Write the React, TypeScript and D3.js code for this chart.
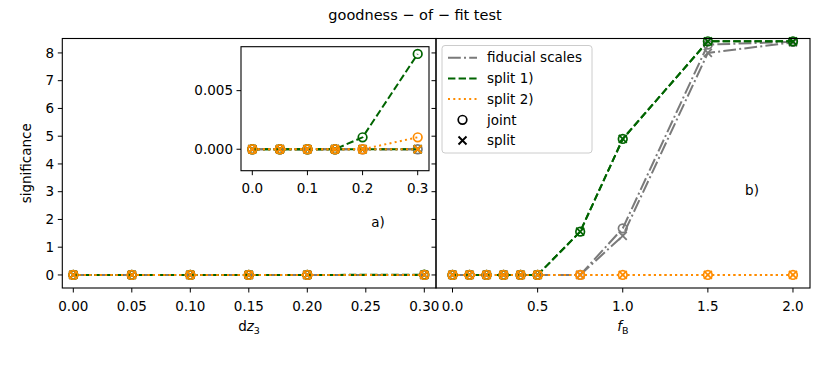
import React from 'react';
import * as d3 from 'd3';

// dz3 scan (left panel)
const dz3 = [0, 0.05, 0.1, 0.15, 0.2, 0.3];
const dzFiducialJoint = [0, 0, 0, 0, 0, 0];
const dzFiducialSplit = [0, 0, 0, 0, 0, 0];
const dzSplit1Joint = [0, 0, 0, 0, 0.00102, 0.00813];
const dzSplit1Split = [0, 0, 0, 0, 0, 0];
const dzSplit2Joint = [0, 0, 0, 0, 0, 0.00102];
const dzSplit2Split = [0, 0, 0, 0, 0, 0];

// f_B scan (right panel)
const fB = [0, 0.1, 0.2, 0.3, 0.4, 0.5, 0.75, 1.0, 1.5, 2.0];
const fbFiducialJoint = [0, 0, 0, 0, 0, 0, 0, 1.68, 8.3, 8.4];
const fbFiducialSplit = [0, 0, 0, 0, 0, 0, 0, 1.41, 8.0, 8.38];
const fbSplit1Joint = [0, 0, 0, 0, 0, 0, 1.56, 4.9, 8.42, 8.42];
const fbSplit1Split = [0, 0, 0, 0, 0, 0, 1.56, 4.9, 8.42, 8.42];
const fbSplit2Joint = [0, 0, 0, 0, 0, 0, 0, 0, 0, 0];
const fbSplit2Split = [0, 0, 0, 0, 0, 0, 0, 0, 0, 0];

const yTicks = [0, 1, 2, 3, 4, 5, 6, 7, 8];
const leftXTicks = [0, 0.05, 0.1, 0.15, 0.2, 0.25, 0.3];
const rightXTicks = [0, 0.5, 1.0, 1.5, 2.0];
const insetXTicks = [0, 0.1, 0.2, 0.3];
const insetYTicks = [0, 0.005];

const GRAY = '#7a7a7a';
const GREEN = '#006400';
const ORANGE = '#ff8c00';
const FONT = 'DejaVu Sans';

const styles = {
  fiducial: { color: GRAY, dash: '12.8,3.2,2,3.2' },
  split1: { color: GREEN, dash: '7.4,3.2' },
  split2: { color: ORANGE, dash: '2,3.3' },
};

type Sc = d3.ScaleLinear<number, number>;

function Series({ xs, ys, x, y, st, marker }: { xs: number[]; ys: number[]; x: Sc; y: Sc; st: { color: string; dash: string }; marker: 'o' | 'x' }) {
  const pts: [number, number][] = xs.map((v, i) => [v, ys[i]]);
  const line = d3.line<[number, number]>().x(d => x(d[0])).y(d => y(d[1]));
  return (
    <g>
      <path d={line(pts) || ''} fill="none" stroke={st.color} strokeWidth={2} strokeDasharray={st.dash} />
      {pts.map((p, i) =>
        marker === 'o' ? (
          <circle key={i} cx={x(p[0])} cy={y(p[1])} r={4.3} fill="none" stroke={st.color} strokeWidth={1.7} />
        ) : (
          <path key={i} d={`M${x(p[0]) - 4},${y(p[1]) - 4}L${x(p[0]) + 4},${y(p[1]) + 4}M${x(p[0]) - 4},${y(p[1]) + 4}L${x(p[0]) + 4},${y(p[1]) - 4}`} stroke={st.color} strokeWidth={1.8} />
        )
      )}
    </g>
  );
}

function AllSeries({ xs, sets, x, y }: { xs: number[]; sets: number[][]; x: Sc; y: Sc }) {
  const order: [keyof typeof styles, 'o' | 'x'][] = [
    ['fiducial', 'o'], ['fiducial', 'x'], ['split1', 'o'], ['split1', 'x'], ['split2', 'o'], ['split2', 'x'],
  ];
  return (
    <g>
      {order.map(([k, m], i) => (
        <Series key={i} xs={xs} ys={sets[i]} x={x} y={y} st={styles[k]} marker={m} />
      ))}
    </g>
  );
}

const App = () => {
  const top = 38.5, bottom = 288;
  const y = d3.scaleLinear().domain([-0.47, 8.52]).range([bottom, top]);
  const xL = d3.scaleLinear().domain([-0.0094, 0.31]).range([62.3, 436]);
  const xR = d3.scaleLinear().domain([-0.097, 2.1]).range([436, 810]);
  const ixL = 241, ixR = 429, iyT = 46.7, iyB = 170.7;
  const xi = d3.scaleLinear().domain([-0.0205, 0.3205]).range([ixL, ixR]);
  const yi = d3.scaleLinear().domain([-0.00183, 0.00875]).range([iyB, iyT]);
  const fmt2 = d3.format('.2f');
  const fmt1 = d3.format('.1f');
  const fmt3 = d3.format('.3f');

  const dzSets = [dzFiducialJoint, dzFiducialSplit, dzSplit1Joint, dzSplit1Split, dzSplit2Joint, dzSplit2Split];
  const fbSets = [fbFiducialJoint, fbFiducialSplit, fbSplit1Joint, fbSplit1Split, fbSplit2Joint, fbSplit2Split];

  const legendItems = [
    { label: 'fiducial scales', kind: 'line', st: styles.fiducial },
    { label: 'split 1)', kind: 'line', st: styles.split1 },
    { label: 'split 2)', kind: 'line', st: styles.split2 },
    { label: 'joint', kind: 'o' },
    { label: 'split', kind: 'x' },
  ];

  return (
    <svg width={830} height={367} style={{ position: 'absolute', left: 0, top: 0, background: '#fff' }} fontFamily={FONT}>
      <rect width={830} height={367} fill="#fff" />
      <text x={415} y={20} textAnchor="middle" fontSize={14.5}>goodness − of − fit test</text>

      {/* left panel */}
      <AllSeries xs={dz3} sets={dzSets} x={xL} y={y} />
      <rect x={62.3} y={top} width={436 - 62.3} height={bottom - top} fill="none" stroke="#000" strokeWidth={1.1} />
      {yTicks.map(t => (
        <g key={t}>
          <line x1={57.8} x2={62.3} y1={y(t)} y2={y(t)} stroke="#000" />
          <text x={54} y={y(t)} dy="0.35em" textAnchor="end" fontSize={13.5}>{t}</text>
          <line x1={431.5} x2={436} y1={y(t)} y2={y(t)} stroke="#000" />
        </g>
      ))}
      {leftXTicks.map(t => (
        <g key={t}>
          <line x1={xL(t)} x2={xL(t)} y1={bottom} y2={bottom + 4.5} stroke="#000" />
          <text x={xL(t)} y={bottom + 18} dy="0.35em" textAnchor="middle" fontSize={13.5}>{fmt2(t)}</text>
        </g>
      ))}
      <text x={249} y={331} textAnchor="middle" fontSize={13.5}>
        d<tspan fontStyle="italic">z</tspan><tspan fontSize={9.5} dy={3}>3</tspan>
      </text>
      <text transform={`translate(31,${(top + bottom) / 2}) rotate(-90)`} textAnchor="middle" fontSize={13.5}>significance</text>
      <text x={378} y={222} dy="0.35em" textAnchor="middle" fontSize={13.5}>a)</text>

      {/* inset */}
      <rect x={ixL} y={iyT} width={ixR - ixL} height={iyB - iyT} fill="#fff" />
      <AllSeries xs={dz3} sets={dzSets} x={xi} y={yi} />
      <rect x={ixL} y={iyT} width={ixR - ixL} height={iyB - iyT} fill="none" stroke="#000" strokeWidth={1.1} />
      {insetXTicks.map(t => (
        <g key={t}>
          <line x1={xi(t)} x2={xi(t)} y1={iyB} y2={iyB + 4.5} stroke="#000" />
          <text x={xi(t)} y={iyB + 18} dy="0.35em" textAnchor="middle" fontSize={13.5}>{fmt1(t)}</text>
        </g>
      ))}
      {insetYTicks.map(t => (
        <g key={t}>
          <line x1={ixL - 4.5} x2={ixL} y1={yi(t)} y2={yi(t)} stroke="#000" />
          <text x={ixL - 8} y={yi(t)} dy="0.35em" textAnchor="end" fontSize={13.5}>{fmt3(t)}</text>
        </g>
      ))}

      {/* right panel */}
      <AllSeries xs={fB} sets={fbSets} x={xR} y={y} />
      <rect x={436} y={top} width={810 - 436} height={bottom - top} fill="none" stroke="#000" strokeWidth={1.1} />
      {rightXTicks.map(t => (
        <g key={t}>
          <line x1={xR(t)} x2={xR(t)} y1={bottom} y2={bottom + 4.5} stroke="#000" />
          <text x={xR(t)} y={bottom + 18} dy="0.35em" textAnchor="middle" fontSize={13.5}>{fmt1(t)}</text>
        </g>
      ))}
      <text x={623} y={331} textAnchor="middle" fontSize={13.5}>
        <tspan fontStyle="italic">f</tspan><tspan fontSize={9.5} dy={3}>B</tspan>
      </text>
      <text x={752} y={190} dy="0.35em" textAnchor="middle" fontSize={13.5}>b)</text>

      {/* legend */}
      <rect x={442} y={45.5} width={150} height={107.5} rx={3} fill="#fff" fillOpacity={0.8} stroke="#ccc" strokeWidth={1} />
      {legendItems.map((it, i) => {
        const ly = 57.7 + i * 20.7;
        return (
          <g key={i}>
            {it.kind === 'line' && it.st && (
              <line x1={448} x2={477} y1={ly} y2={ly} stroke={it.st.color} strokeWidth={2} strokeDasharray={it.st.dash} />
            )}
            {it.kind === 'o' && <circle cx={462.5} cy={ly} r={4.3} fill="none" stroke="#000" strokeWidth={1.7} />}
            {it.kind === 'x' && (
              <path d={`M458.5,${ly - 4}L466.5,${ly + 4}M458.5,${ly + 4}L466.5,${ly - 4}`} stroke="#000" strokeWidth={1.9} />
            )}
            <text x={487} y={ly} dy="0.35em" fontSize={13.5}>{it.label}</text>
          </g>
        );
      })}
    </svg>
  );
};

export default App;
